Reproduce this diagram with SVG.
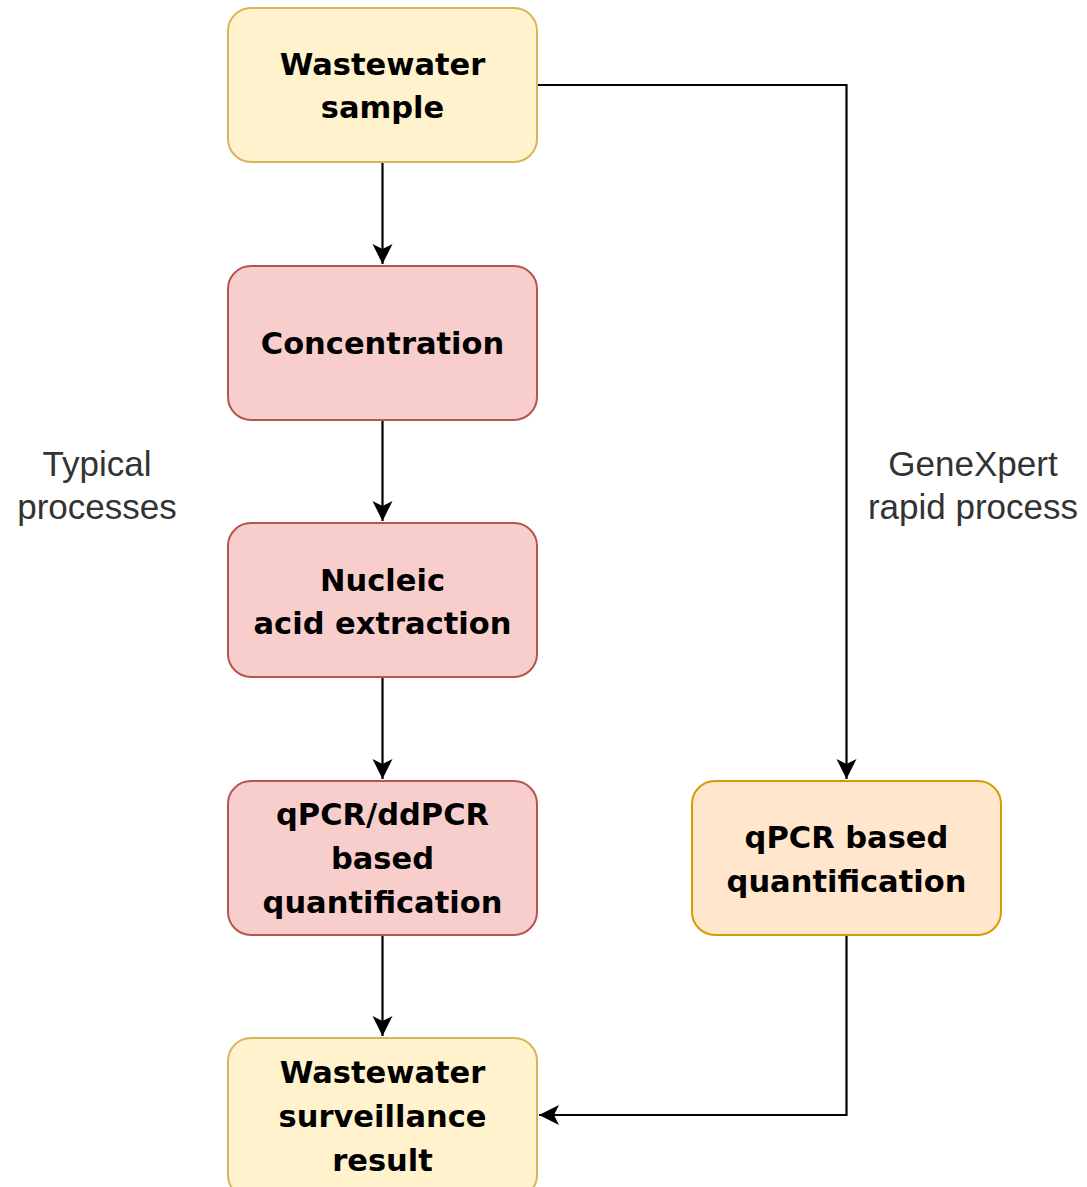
<svg xmlns="http://www.w3.org/2000/svg" width="1087" height="1187" viewBox="0 0 1087 1187">
<style>
.box{stroke-width:2}
.y{fill:#fff2cc;stroke:#d6b656}
.r{fill:#f8cecc;stroke:#b85450}
.o{fill:#ffe6cc;stroke:#d79b00}
.t{font-family:"DejaVu Sans",sans-serif;font-weight:bold;font-size:30.5px;fill:#000;text-anchor:middle}
.l{font-family:"Liberation Sans",Arial,sans-serif;font-size:35px;fill:#333;text-anchor:middle}
.c{fill:none;stroke:#000;stroke-width:2.2}
</style>
<defs>
<marker id="arr" markerUnits="userSpaceOnUse" markerWidth="24" markerHeight="24" viewBox="-22 -12 24 24" refX="0" refY="0" orient="auto">
<path d="M0,0 L-20,-10 L-15,0 L-20,10 Z" fill="#000"/>
</marker>
</defs>
<rect width="1087" height="1187" fill="#fff"/>
<g id="connectors">
<path class="c" d="M382.5,162 V264" marker-end="url(#arr)"/>
<path class="c" d="M382.5,420 V521" marker-end="url(#arr)"/>
<path class="c" d="M382.5,677 V779" marker-end="url(#arr)"/>
<path class="c" d="M382.5,935 V1036" marker-end="url(#arr)"/>
<path class="c" d="M537,85 H846.5 V779" marker-end="url(#arr)"/>
<path class="c" d="M846.5,935 V1115 H539" marker-end="url(#arr)"/>
</g>
<g id="n1"><rect class="box y" x="228" y="8" width="309" height="154" rx="23"/><text class="t" x="382.5" y="75">Wastewater</text><text class="t" x="382.5" y="118">sample</text></g>
<g id="n2"><rect class="box r" x="228" y="266" width="309" height="154" rx="23"/><text class="t" x="382.5" y="354">Concentration</text></g>
<g id="n3"><rect class="box r" x="228" y="523" width="309" height="154" rx="23"/><text class="t" x="382.5" y="591">Nucleic</text><text class="t" x="382.5" y="634">acid extraction</text></g>
<g id="n4"><rect class="box r" x="228" y="781" width="309" height="154" rx="23"/><text class="t" x="382.5" y="825">qPCR/ddPCR</text><text class="t" x="382.5" y="869">based</text><text class="t" x="382.5" y="913">quantification</text></g>
<g id="n5"><rect class="box o" x="692" y="781" width="309" height="154" rx="23"/><text class="t" x="846.5" y="848">qPCR based</text><text class="t" x="846.5" y="892">quantification</text></g>
<g id="n6"><rect class="box y" x="228" y="1038" width="309" height="160" rx="23"/><text class="t" x="382.5" y="1083">Wastewater</text><text class="t" x="382.5" y="1127">surveillance</text><text class="t" x="382.5" y="1171">result</text></g>
<g id="lbl1"><text class="l" x="97" y="476">Typical</text><text class="l" x="97" y="519">processes</text></g>
<g id="lbl2"><text class="l" x="973" y="476">GeneXpert</text><text class="l" x="973" y="519">rapid process</text></g>
</svg>
